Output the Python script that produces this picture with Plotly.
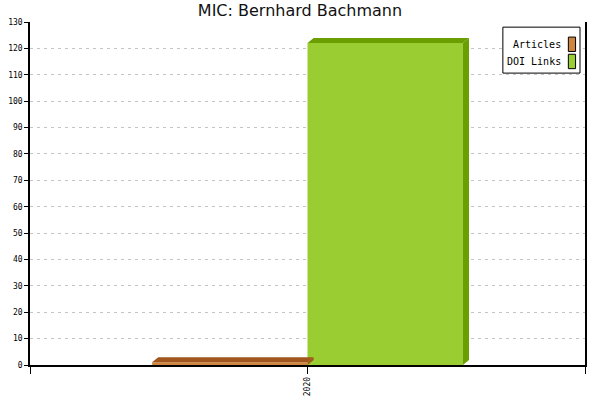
import plotly.graph_objects as go

# chart data
title = "MIC: Bernhard Bachmann"
years = ["2020"]
series_names = ["Articles", "DOI Links"]
articles = [1]
doi_links = [122]
y_ticks = list(range(0, 131, 10))

front_colors = ["#CD853F", "#9ACD32"]
dark_colors = ["#A0561C", "#6B9E00"]

BAR_W = 0.28      # width of one bar, in category units
DX = 0.011        # depth of the fake 3d effect (x units)
DY = 1.9          # depth of the fake 3d effect (y units)

fig = go.Figure()

series = [articles, doi_links]
for s, values in enumerate(series):
    for i, v in enumerate(values):
        x0 = i - BAR_W + s * BAR_W
        x1 = x0 + BAR_W
        # front face
        fig.add_bar(x=[i], y=[v], width=BAR_W, offset=-BAR_W + s * BAR_W,
                    marker=dict(color=front_colors[s], line=dict(width=0)),
                    name=series_names[s], hoverinfo="skip", showlegend=False)
        # top face
        fig.add_scatter(x=[x0, x0 + DX, x1 + DX, x1, x0],
                        y=[v, v + DY, v + DY, v, v],
                        mode="lines", fill="toself", fillcolor=dark_colors[s],
                        line=dict(width=0), hoverinfo="skip", showlegend=False)
        # side face
        fig.add_scatter(x=[x1, x1 + DX, x1 + DX, x1, x1],
                        y=[0, DY, v + DY, v, 0],
                        mode="lines", fill="toself", fillcolor=dark_colors[s],
                        line=dict(width=0), hoverinfo="skip", showlegend=False)

# hand-made legend, swatches to the right of the labels
shapes = [dict(type="rect", xref="paper", yref="paper", x0=0.852, x1=0.991,
               y0=0.851, y1=0.985, line=dict(color="black", width=1),
               fillcolor="white", layer="above")]
annotations = []
for k, name in enumerate(series_names):
    yc = 0.935 - k * 0.05
    shapes.append(dict(type="rect", xref="paper", yref="paper",
                       x0=0.970, x1=0.983, y0=yc - 0.021, y1=yc + 0.021,
                       fillcolor=front_colors[k], line=dict(color="black", width=1),
                       layer="above"))
    annotations.append(dict(x=0.960, y=yc, xref="paper", yref="paper",
                            text=name, showarrow=False, xanchor="right",
                            yanchor="middle",
                            font=dict(family="DejaVu Sans Mono", size=10, color="black")))

fig.update_layout(
    width=600, height=400,
    margin=dict(l=30, r=15, t=22, b=35, autoexpand=False),
    paper_bgcolor="white", plot_bgcolor="white",
    title=dict(text=title, x=0.5, xanchor="center", y=1 - 10.5 / 400,
               yanchor="middle",
               font=dict(family="DejaVu Sans", size=16, color="#111"),
               automargin=False),
    showlegend=False,
    barmode="overlay",
    shapes=shapes,
    annotations=annotations,
)

fig.update_xaxes(
    range=[-0.5, len(years) - 0.5],
    tickvals=[-0.5] + list(range(len(years))) + [len(years) - 0.5],
    ticktext=[""] + years + [""],
    tickangle=-90,
    ticks="outside", ticklen=7, tickcolor="black",
    showline=True, linecolor="black", linewidth=1.5,
    showgrid=False, zeroline=False, automargin=False,
    tickfont=dict(family="DejaVu Sans Mono", size=8, color="black"),
)
fig.update_yaxes(
    range=[0, 130],
    tickvals=y_ticks,
    ticks="outside", ticklen=4, tickcolor="black",
    showline=True, linecolor="black", linewidth=1.5, mirror=True,
    showgrid=True, gridcolor="#c4c4c4", griddash="3px,4px", gridwidth=1,
    zeroline=False, automargin=False,
    tickfont=dict(family="DejaVu Sans Mono", size=8, color="black"),
)

# drop the default page margin so the figure sits at the window corner
fig.write_html("out.html", config={"displayModeBar": False},
               post_script="document.body.style.margin = '0';")
